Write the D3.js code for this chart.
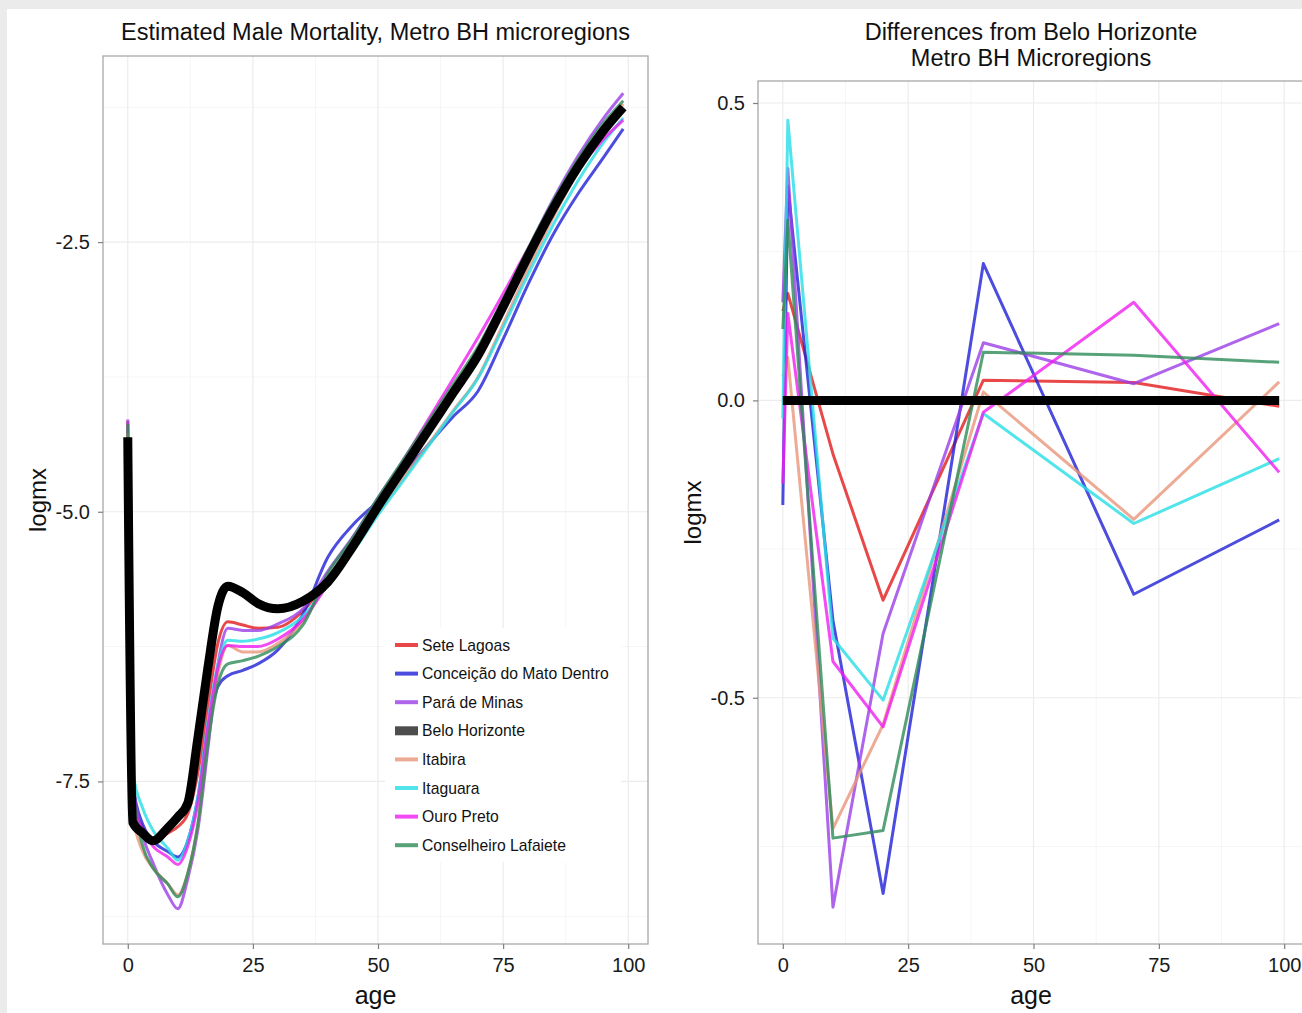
<!DOCTYPE html>
<html>
<head>
<meta charset="utf-8">
<script src="https://cdn.jsdelivr.net/npm/d3@7"></script>
<style>
body { margin: 0; background: #fff; }
svg { display: block; font-family: "Liberation Sans", Arial, sans-serif; }
</style>
</head>
<body>
<script>
// regions, in legend order
var regions = ["Sete Lagoas", "Conceição do Mato Dentro", "Pará de Minas", "Belo Horizonte",
               "Itabira", "Itaguara", "Ouro Preto", "Conselheiro Lafaiete"];
var colors = ["#e41a1c", "#1f1fd6", "#9b3ee6", "#000000", "#e9967a", "#25dfe6", "#f01ef0", "#2e8b57"];

// left panel: estimated logmx by age
var ages = [0, 1, 3, 5, 8, 10, 12, 14, 16, 18, 20, 23, 26, 30, 35, 40, 45, 50, 55, 60, 65, 70, 75, 80, 85, 90, 95, 99];
var seteLagoas = [-4.16, -7.70, -7.93, -8.05, -7.98, -7.92, -7.80, -7.42, -6.80, -6.22, -6.02, -6.05, -6.08, -6.07, -5.92, -5.62, -5.29, -4.92, -4.57, -4.22, -3.87, -3.52, -3.08, -2.61, -2.18, -1.80, -1.475, -1.26];
var conceicao = [-4.49, -7.52, -7.90, -8.05, -8.15, -8.20, -8.05, -7.65, -7.00, -6.62, -6.52, -6.47, -6.41, -6.28, -5.95, -5.42, -5.12, -4.90, -4.65, -4.38, -4.12, -3.88, -3.40, -2.89, -2.43, -2.05, -1.72, -1.45];
var paraDeMinas = [-4.145, -7.49, -8.00, -8.25, -8.55, -8.68, -8.40, -7.95, -7.20, -6.42, -6.08, -6.10, -6.10, -6.04, -5.90, -5.55, -5.23, -4.87, -4.535, -4.20, -3.86, -3.52, -3.055, -2.565, -2.105, -1.70, -1.355, -1.12];
var beloHorizonte = [-4.31, -7.88, -7.98, -8.05, -7.93, -7.83, -7.70, -7.10, -6.45, -5.88, -5.69, -5.75, -5.85, -5.90, -5.83, -5.65, -5.32, -4.95, -4.60, -4.25, -3.90, -3.55, -3.10, -2.63, -2.19, -1.80, -1.47, -1.25];
var itabira = [-4.27, -7.81, -8.15, -8.30, -8.45, -8.55, -8.35, -7.90, -7.10, -6.50, -6.24, -6.30, -6.30, -6.22, -6.02, -5.64, -5.34, -5.01, -4.69, -4.38, -4.065, -3.75, -3.26, -2.75, -2.27, -1.84, -1.47, -1.22];
var itaguara = [-4.34, -7.41, -7.75, -7.95, -8.12, -8.23, -8.05, -7.65, -6.95, -6.42, -6.19, -6.20, -6.18, -6.12, -5.97, -5.67, -5.37, -5.03, -4.715, -4.395, -4.075, -3.76, -3.29, -2.80, -2.34, -1.93, -1.58, -1.35];
var ouroPreto = [-4.45, -7.73, -7.95, -8.10, -8.20, -8.27, -8.10, -7.70, -7.00, -6.45, -6.24, -6.25, -6.25, -6.18, -6.00, -5.67, -5.31, -4.91, -4.53, -4.15, -3.77, -3.385, -2.98, -2.56, -2.17, -1.83, -1.55, -1.37];
var conselheiro = [-4.19, -7.58, -8.10, -8.30, -8.45, -8.57, -8.35, -7.90, -7.15, -6.60, -6.41, -6.38, -6.34, -6.25, -6.05, -5.57, -5.24, -4.87, -4.52, -4.17, -3.82, -3.47, -3.03, -2.56, -2.12, -1.73, -1.40, -1.19];

// right panel: differences from Belo Horizonte
var diffAges = [0, 1, 10, 20, 40, 70, 99];
var dSeteLagoas = [0.15, 0.18, -0.09, -0.336, 0.034, 0.03, -0.01];
var dConceicao = [-0.176, 0.36, -0.37, -0.829, 0.23, -0.326, -0.201];
var dParaDeMinas = [0.165, 0.39, -0.852, -0.392, 0.097, 0.028, 0.129];
var dBeloHorizonte = [0, 0, 0, 0, 0, 0, 0];
var dItabira = [0.04, 0.072, -0.72, -0.545, 0.014, -0.2, 0.031];
var dItaguara = [-0.03, 0.471, -0.40, -0.504, -0.022, -0.207, -0.098];
var dOuroPreto = [-0.14, 0.146, -0.439, -0.549, -0.02, 0.165, -0.121];
var dConselheiro = [0.12, 0.303, -0.736, -0.723, 0.081, 0.076, 0.064];

var xTicks = [0, 25, 50, 75, 100];
var xMinor = [12.5, 37.5, 62.5, 87.5];
var leftYTicks = [-2.5, -5, -7.5];
var leftYLabels = ["-2.5", "-5.0", "-7.5"];
var leftYMinor = [-1.25, -3.75, -6.25, -8.75];
var rightYTicks = [0.5, 0, -0.5];
var rightYLabels = ["0.5", "0.0", "-0.5"];
var rightYMinor = [0.25, -0.25, -0.75];

var leftSeries = [seteLagoas, conceicao, paraDeMinas, beloHorizonte, itabira, itaguara, ouroPreto, conselheiro];
var rightSeries = [dSeteLagoas, dConceicao, dParaDeMinas, dBeloHorizonte, dItabira, dItaguara, dOuroPreto, dConselheiro];

var W = 1302, H = 1013;
var svg = d3.select("body").append("svg").attr("width", W).attr("height", H);
svg.append("rect").attr("width", W).attr("height", H).attr("fill", "#ebebeb");
svg.append("rect").attr("x", 7).attr("y", 9).attr("width", W).attr("height", H).attr("fill", "#fff");

function drawPanel(p) {
  var x = d3.scaleLinear().domain([-4.95, 103.95]).range([p.x0, p.x1]);
  var y = d3.scaleLinear().domain(p.yDomain).range([p.y1, p.y0]);
  var g = svg.append("g");

  // grid
  g.selectAll(".vminor").data(xMinor).enter().append("line")
    .attr("x1", x).attr("x2", x).attr("y1", p.y0).attr("y2", p.y1)
    .attr("stroke", "#f6f6f6").attr("stroke-width", 1);
  g.selectAll(".hminor").data(p.yMinor).enter().append("line")
    .attr("x1", p.x0).attr("x2", p.x1).attr("y1", y).attr("y2", y)
    .attr("stroke", "#f6f6f6").attr("stroke-width", 1);
  g.selectAll(".vmajor").data(xTicks).enter().append("line")
    .attr("x1", x).attr("x2", x).attr("y1", p.y0).attr("y2", p.y1)
    .attr("stroke", "#ececec").attr("stroke-width", 1.2);
  g.selectAll(".hmajor").data(p.yTicks).enter().append("line")
    .attr("x1", p.x0).attr("x2", p.x1).attr("y1", y).attr("y2", y)
    .attr("stroke", "#ececec").attr("stroke-width", 1.2);

  // lines
  var line = d3.line().curve(p.curve);
  p.series.forEach(function(vals, i) {
    if (i == 3) return;
    g.append("path")
      .attr("d", line(p.xs.map(function(a, j) { return [x(a), y(vals[j])]; })))
      .attr("fill", "none").attr("stroke", colors[i]).attr("stroke-opacity", 0.8)
      .attr("stroke-width", 3).attr("stroke-linejoin", "round");
  });
  // Belo Horizonte on top
  g.append("path")
    .attr("d", line(p.xs.map(function(a, j) { return [x(a), y(p.series[3][j])]; })))
    .attr("fill", "none").attr("stroke", "#000").attr("stroke-width", 9)
    .attr("stroke-linejoin", "round");

  // border
  g.append("rect").attr("x", p.x0).attr("y", p.y0)
    .attr("width", p.x1 - p.x0).attr("height", p.y1 - p.y0)
    .attr("fill", "none").attr("stroke", "#a8a8a8").attr("stroke-width", 1.3);

  // axes
  var xa = g.append("g").attr("transform", "translate(0," + p.y1 + ")")
    .call(d3.axisBottom(x).tickValues(xTicks).tickSize(5).tickPadding(9));
  var ya = g.append("g").attr("transform", "translate(" + p.x0 + ",0)")
    .call(d3.axisLeft(y).tickValues(p.yTicks).tickSize(5).tickPadding(8)
      .tickFormat(function(d, i) { return p.yLabels[i]; }));
  [xa, ya].forEach(function(a) {
    a.select(".domain").remove();
    a.selectAll(".tick line").attr("stroke", "#7f7f7f").attr("stroke-width", 1.2);
    a.selectAll(".tick text").attr("fill", "#1a1a1a").style("font-size", "20px")
      .style("font-family", "Liberation Sans, Arial, sans-serif");
  });

  // titles
  p.title.forEach(function(t, i) {
    svg.append("text").attr("x", (p.x0 + p.x1) / 2).attr("y", 40 + i * 26)
      .attr("text-anchor", "middle").style("font-size", "23.5px").attr("fill", "#111").text(t);
  });
  svg.append("text").attr("x", (p.x0 + p.x1) / 2).attr("y", 1004)
    .attr("text-anchor", "middle").style("font-size", "25px").attr("fill", "#111").text("age");
  svg.append("text")
    .attr("transform", "translate(" + p.ylabX + "," + (p.y0 + p.y1) / 2 + ") rotate(-90)")
    .attr("text-anchor", "middle").style("font-size", "24px").attr("fill", "#111").text("logmx");
}

drawPanel({
  x0: 103, x1: 648, y0: 56, y1: 944,
  yDomain: [-9.007, -0.775],
  yTicks: leftYTicks, yLabels: leftYLabels, yMinor: leftYMinor,
  xs: ages, series: leftSeries, curve: d3.curveMonotoneX,
  title: ["Estimated Male Mortality, Metro BH microregions"], ylabX: 46
});

drawPanel({
  x0: 758, x1: 1304, y0: 81, y1: 944,
  yDomain: [-0.914, 0.537],
  yTicks: rightYTicks, yLabels: rightYLabels, yMinor: rightYMinor,
  xs: diffAges, series: rightSeries, curve: d3.curveLinear,
  title: ["Differences from Belo Horizonte", "Metro BH Microregions"], ylabX: 701
});

// legend inside the left panel
var lg = svg.append("g").attr("transform", "translate(385,628)");
lg.append("rect").attr("width", 236).attr("height", 234).attr("fill", "#fff");
regions.forEach(function(r, i) {
  var cy = 17 + i * 28.6;
  if (i == 3) {
    lg.append("rect").attr("x", 10).attr("y", cy - 4.5).attr("width", 23).attr("height", 9).attr("fill", "#4d4d4d");
  } else {
    lg.append("line").attr("x1", 10).attr("x2", 33).attr("y1", cy).attr("y2", cy)
      .attr("stroke", colors[i]).attr("stroke-opacity", 0.8).attr("stroke-width", 4);
  }
  lg.append("text").attr("x", 37).attr("y", cy + 5.5).style("font-size", "15.7px")
    .attr("fill", "#111").text(r);
});
</script>
</body>
</html>
